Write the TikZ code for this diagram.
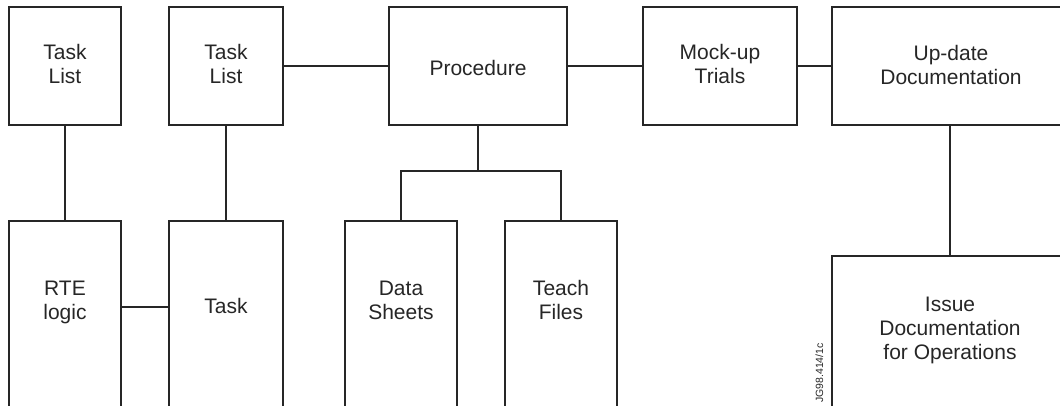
\documentclass[tikz,border=0pt]{standalone}
\usepackage{fontspec}
\setmainfont{Liberation Sans}
\definecolor{ink}{HTML}{262626}
\begin{document}
\begin{tikzpicture}[x=1pt,y=-1pt,
  box/.style={draw=ink, line width=2pt, inner sep=0pt, outer sep=0pt, anchor=north west},
  txt/.style={text=ink, font=\fontsize{21}{24}\selectfont, align=center, inner sep=0pt, anchor=base},
  tag/.style={text=ink, font=\fontsize{10.5}{12}\selectfont, inner sep=0pt, rotate=90, anchor=base east},
  link/.style={draw=ink, line width=2pt}]
\useasboundingbox (0,0) rectangle (1060,405);
\clip (0,0) rectangle (1060,405);

% upper row
\node[box, minimum width=112, minimum height=118] (tl1)  at (9,7)   {};
\node[box, minimum width=114, minimum height=118] (tl2)  at (169,7) {};
\node[box, minimum width=178, minimum height=118] (proc) at (389,7) {};
\node[box, minimum width=154, minimum height=118] (mock) at (643,7) {};
\node[box, minimum width=238, minimum height=118] (upd)  at (832,7) {};

% lower row (boxes run on past the page edge)
\node[box, minimum width=112, minimum height=200] (rte)   at (9,221)   {};
\node[box, minimum width=114, minimum height=200] (task)  at (169,221) {};
\node[box, minimum width=112, minimum height=200] (data)  at (345,221) {};
\node[box, minimum width=112, minimum height=200] (teach) at (505,221) {};
\node[box, minimum width=236, minimum height=165] (issue) at (832,256) {};

% labels (base anchor = baseline of the last line)
\path (tl1.north)   ++(0,76)  node[txt] (tl1t)   {Task\\List};
\path (tl2.north)   ++(0,76)  node[txt] (tl2t)   {Task\\List};
\path (proc.north)  ++(0,68)  node[txt] (proct)  {Procedure};
\path (mock.north)  ++(0,76)  node[txt] (mockt)  {Mock-up\\Trials};
\path (upd.north)   ++(0,77)  node[txt] (updt)   {Up-date\\Documentation};
\path (rte.north)   ++(0,98)  node[txt] (rtet)   {RTE\\logic};
\path (task.north)  ++(0,92)  node[txt] (taskt)  {Task};
\path (data.north)  ++(0,98)  node[txt] (datat)  {Data\\Sheets};
\path (teach.north) ++(0,98)  node[txt] (teacht) {Teach\\Files};
\path (issue.north) ++(0,103) node[txt] (issuet) {Issue\\Documentation\\for Operations};
\path (issue.north west) ++(-9,87) node[tag] (ref) {JG98.414/1c};

% connectors
\draw[link] (tl1.south) -- (tl1.south |- rte.north);
\draw[link] (tl2.south) -- (tl2.south |- task.north);
\draw[link] ([yshift=-86pt]rte.north east) -- ([yshift=-86pt]task.north west);
\draw[link] (tl2.east) -- (tl2.east -| proc.west);
\draw[link] (proc.east) -- (proc.east -| mock.west);
\draw[link] (mock.east) -- (mock.east -| upd.west);
\draw[link] (proc.south) -- ++(0,46) coordinate (fork);
\draw[link] (data.north) |- (fork) -| (teach.north);
\draw[link] (upd.south -| issue.north) -- (issue.north);
\end{tikzpicture}
\end{document}
